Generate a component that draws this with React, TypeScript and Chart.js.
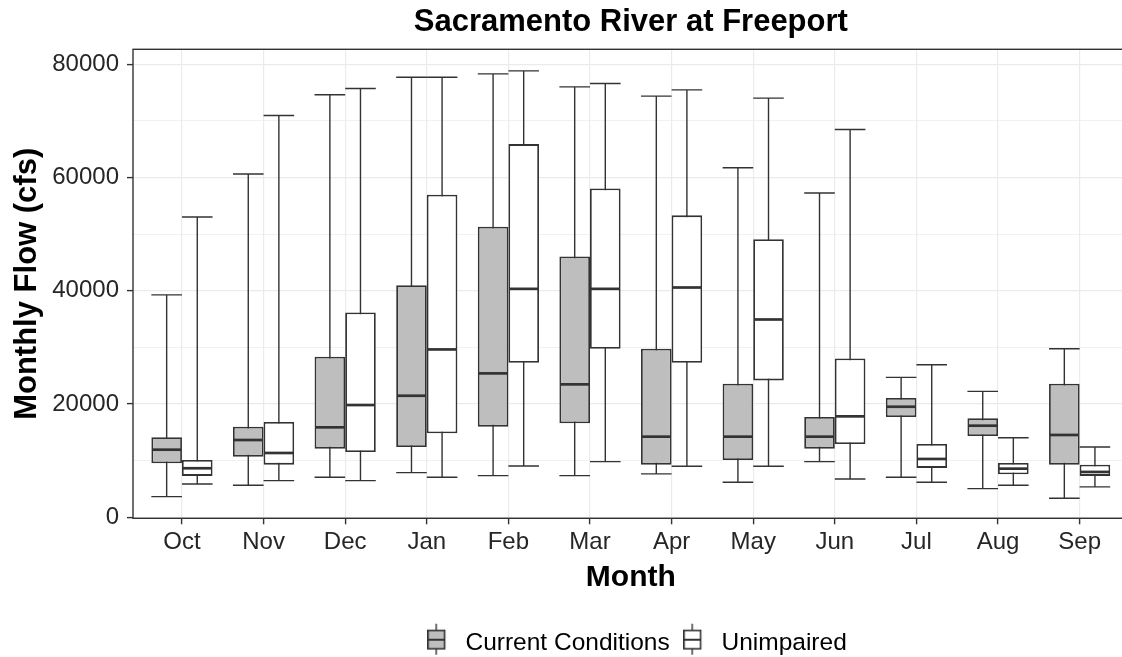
import React, { useEffect, useRef } from 'react';
import { Chart, registerables } from 'chart.js';

Chart.register(...registerables);

// ---------------- data ----------------
const months = ['Oct', 'Nov', 'Dec', 'Jan', 'Feb', 'Mar', 'Apr', 'May', 'Jun', 'Jul', 'Aug', 'Sep'];

const currentMin = [3630, 5640, 7050, 7870, 7340, 7340, 7640, 6170, 9810, 7050, 5050, 3350];
const currentQ1 = [9520, 10690, 12100, 12400, 15990, 16580, 9280, 10110, 12100, 17690, 14340, 9280];
const currentMedian = [11920, 13630, 15870, 21450, 25400, 23460, 14220, 14220, 14220, 19510, 16160, 14520];
const currentQ3 = [14110, 15990, 28330, 40970, 51320, 46040, 29740, 23570, 17690, 21040, 17460, 23570];
const currentMax = [39260, 60610, 74610, 77720, 78310, 76020, 74370, 61730, 57260, 24690, 22220, 29740];

const unimpairedMin = [5870, 6460, 6460, 7050, 9050, 9810, 9000, 9000, 6750, 6170, 5640, 5350];
const unimpairedQ1 = [7290, 9280, 11520, 14820, 27270, 29740, 27270, 24160, 12930, 8700, 7580, 7290];
const unimpairedMedian = [8640, 11340, 19810, 29630, 40330, 40330, 40570, 34920, 17810, 10280, 8570, 7990];
const unimpairedQ3 = [10110, 16810, 36160, 56970, 65900, 58080, 53320, 49090, 28040, 12930, 9580, 9280];
const unimpairedMax = [53020, 70960, 75720, 77720, 78840, 76600, 75490, 74020, 68490, 26920, 14040, 12400];

const seriesNames = ['Current Conditions', 'Unimpaired'];
const yGridValues = [0, 10000, 20000, 30000, 40000, 50000, 60000, 70000, 80000];
const yLabelStep = 20000;

// ---------------- layout / style ----------------
const W = 1274;
const H = 665;
const PANEL_LEFT = 133;
const PANEL_RIGHT = 1128.6;
const PANEL_BOTTOM = 518.3;
const LEGEND_PAD = 13.5;
const LEGEND_FONT = 24.5;
const LEGEND_H = LEGEND_FONT + LEGEND_PAD + 10;
const GLYPH_W = 26;
const FONT = "'Liberation Sans', Arial, Helvetica, sans-serif";
const LINE = '#333333';
const TICK_TEXT = '#262626';
const FILLS = ['#BEBEBE', '#FFFFFF'];

const stats = [
  { min: currentMin, q1: currentQ1, med: currentMedian, q3: currentQ3, max: currentMax },
  { min: unimpairedMin, q1: unimpairedQ1, med: unimpairedMedian, q3: unimpairedQ3, max: unimpairedMax },
];

function makeGlyph(fill: string): HTMLCanvasElement {
  const c = document.createElement('canvas');
  c.width = GLYPH_W;
  c.height = 40;
  const g = c.getContext('2d')!;
  g.strokeStyle = LINE;
  g.lineWidth = 1.4;
  g.beginPath();
  g.moveTo(9, 1);
  g.lineTo(9, 32);
  g.stroke();
  g.fillStyle = fill;
  g.fillRect(0.8, 7.7, 16.6, 18.3);
  g.lineWidth = 1.6;
  g.strokeRect(0.8, 7.7, 16.6, 18.3);
  g.lineWidth = 2;
  g.beginPath();
  g.moveTo(0.8, 17);
  g.lineTo(17.4, 17);
  g.stroke();
  return c;
}

const isMajor = (c: any) => !!c.tick && Math.round(c.tick.value) % yLabelStep === 0;

const boxPlugin = {
  id: 'boxExtras',
  beforeDatasetsDraw(chart: any) {
    const ctx = chart.ctx;
    const y = chart.scales.y;
    ctx.save();
    ctx.strokeStyle = LINE;
    ctx.lineWidth = 1.4;
    stats.forEach((s, d) => {
      const meta = chart.getDatasetMeta(d);
      meta.data.forEach((el: any, i: number) => {
        const x = el.x;
        const hw = el.width / 2;
        const yMin = y.getPixelForValue(s.min[i]);
        const yMax = y.getPixelForValue(s.max[i]);
        ctx.beginPath();
        ctx.moveTo(x, yMax);
        ctx.lineTo(x, yMin);
        ctx.moveTo(x - hw, yMax);
        ctx.lineTo(x + hw, yMax);
        ctx.moveTo(x - hw, yMin);
        ctx.lineTo(x + hw, yMin);
        ctx.stroke();
      });
    });
    ctx.restore();
  },
  afterDatasetsDraw(chart: any) {
    const ctx = chart.ctx;
    const y = chart.scales.y;
    ctx.save();
    ctx.strokeStyle = LINE;
    ctx.lineWidth = 2.7;
    stats.forEach((s, d) => {
      const meta = chart.getDatasetMeta(d);
      meta.data.forEach((el: any, i: number) => {
        const x = el.x;
        const hw = el.width / 2;
        const ym = y.getPixelForValue(s.med[i]);
        ctx.beginPath();
        ctx.moveTo(x - hw + 0.9, ym);
        ctx.lineTo(x + hw - 0.9, ym);
        ctx.stroke();
      });
    });
    const a = chart.chartArea;
    ctx.strokeStyle = LINE;
    ctx.lineWidth = 1.4;
    ctx.strokeRect(a.left, a.top, a.right - a.left, a.bottom - a.top);
    ctx.restore();
  },
};

export default function App() {
  const ref = useRef<HTMLCanvasElement | null>(null);

  useEffect(() => {
    if (!ref.current) return;
    const glyphs = [makeGlyph(FILLS[0]), makeGlyph(FILLS[1])];
    const datasets = stats.map((s, d) => ({
      label: seriesNames[d],
      data: months.map((_, i) => ({ x: i + 1, y: [s.q1[i], s.q3[i]] })),
      backgroundColor: FILLS[d],
      borderColor: LINE,
      borderWidth: 1.8,
      borderSkipped: false,
      categoryPercentage: 0.75,
      barPercentage: 1.0,
      yAxisID: 'y',
      xAxisID: 'x',
    }));

    const chart = new Chart(ref.current, {
      type: 'bar',
      data: { datasets } as any,
      plugins: [boxPlugin],
      options: {
        responsive: false,
        animation: false,
        devicePixelRatio: 1,
        events: [],
        layout: { padding: 0 },
        plugins: {
          tooltip: { enabled: false },
          title: {
            display: true,
            text: 'Sacramento River at Freeport',
            fullSize: false,
            color: '#000',
            font: { family: FONT, size: 31, weight: 'bold' },
            padding: { top: 3.5, bottom: 8.6 },
          },
          legend: {
            display: true,
            position: 'bottom',
            onClick: () => {},
            labels: {
              usePointStyle: true,
              pointStyleWidth: GLYPH_W,
              padding: LEGEND_PAD,
              color: '#000',
              font: { family: FONT, size: LEGEND_FONT },
              generateLabels: () =>
                seriesNames.map((name, d) => ({
                  text: name,
                  pointStyle: glyphs[d] as any,
                  fillStyle: FILLS[d],
                  strokeStyle: LINE,
                  lineWidth: 0,
                  hidden: false,
                  datasetIndex: d,
                  fontColor: '#000',
                })),
            },
          },
        },
        scales: {
          x: {
            type: 'linear',
            position: 'bottom',
            offset: false,
            bounds: 'data',
            min: 0.4,
            max: 12.6,
            afterBuildTicks: (s: any) => {
              s.ticks = months.map((_, i) => ({ value: i + 1 }));
            },
            ticks: {
              autoSkip: false,
              maxRotation: 0,
              padding: 4,
              color: TICK_TEXT,
              font: { family: FONT, size: 24 },
              callback: (v: any) => months[Math.round(Number(v)) - 1] ?? '',
            },
            grid: {
              offset: false,
              color: '#EBEBEB',
              lineWidth: 1.2,
              tickLength: 6,
              tickColor: LINE,
              tickWidth: 1.4,
            },
            border: { display: false },
            title: {
              display: true,
              text: 'Month',
              color: '#000',
              font: { family: FONT, size: 30, weight: 'bold' },
              padding: { top: 0, bottom: 21 },
            },
            afterFit: (s: any) => {
              s.height = H - LEGEND_H - PANEL_BOTTOM;
            },
          },
          y: {
            type: 'linear',
            position: 'left',
            bounds: 'data',
            beginAtZero: false,
            min: -200,
            max: 82650,
            afterBuildTicks: (s: any) => {
              s.ticks = yGridValues.map((v) => ({ value: v }));
            },
            ticks: {
              display: true,
              autoSkip: false,
              padding: 8,
              color: TICK_TEXT,
              font: { family: FONT, size: 24 },
              callback: (v: any) => (Math.round(Number(v)) % yLabelStep === 0 ? String(Math.round(Number(v))) : ''),
            },
            grid: {
              color: '#EBEBEB',
              lineWidth: (c: any) => (isMajor(c) ? 1.2 : 0.7),
              tickLength: 6,
              tickColor: (c: any) => (isMajor(c) ? LINE : 'rgba(0,0,0,0)'),
              tickWidth: 1.4,
            },
            border: { display: false },
            title: {
              display: true,
              text: 'Monthly Flow (cfs)',
              color: '#000',
              font: { family: FONT, size: 31, weight: 'bold' },
              padding: { top: 9, bottom: 0 },
            },
            afterFit: (s: any) => {
              s.width = PANEL_LEFT;
            },
          },
          yR: {
            type: 'linear',
            position: 'right',
            display: true,
            ticks: { display: false },
            grid: { display: false, drawTicks: false },
            border: { display: false },
            afterFit: (s: any) => {
              s.width = W - PANEL_RIGHT;
            },
          },
        },
      } as any,
    });
    return () => chart.destroy();
  }, []);

  return (
    <div
      style={{
        position: 'absolute',
        left: 0,
        top: 0,
        width: 1122,
        height: 657,
        overflow: 'hidden',
        background: '#fff',
      }}
    >
      <canvas ref={ref} width={W} height={H} style={{ width: W, height: H, display: 'block' }} />
    </div>
  );
}
